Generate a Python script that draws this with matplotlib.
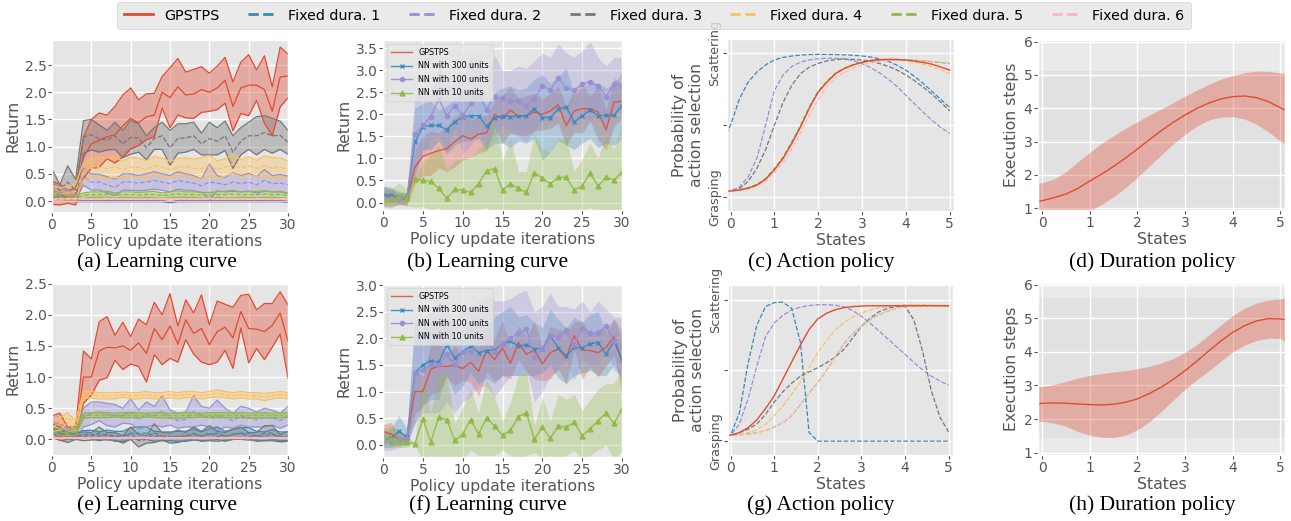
import matplotlib
matplotlib.use("Agg")
import matplotlib.pyplot as plt
import numpy as np
from matplotlib.lines import Line2D

plt.style.use("ggplot")
plt.rcParams["font.family"] = ["DejaVu Sans"]

RED = "#E24A33"
FIXED_COLORS = ["#348ABD", "#988ED5", "#777777", "#FBC15E", "#8EBA42", "#FFB5B8"]
LEGEND_LABELS = ["GPSTPS", "Fixed dura. 1", "Fixed dura. 2", "Fixed dura. 3",
                 "Fixed dura. 4", "Fixed dura. 5", "Fixed dura. 6"]
NN_LABELS = ["NN with 300 units", "NN with 100 units", "NN with 10 units"]
CAPTIONS = ["(a) Learning curve", "(b) Learning curve", "(c) Action policy", "(d) Duration policy",
            "(e) Learning curve", "(f) Learning curve", "(g) Action policy", "(h) Duration policy"]

ITERATIONS = list(range(31))

# ---- learning curves, setting 1 (a, b) ----
A_GPSTPS_MEAN = [0.15, 0.12, 0.08, 0.08, 0.80, 1.05, 1.12, 1.18, 1.22, 1.38, 1.52, 1.44, 1.55, 1.58, 2.00, 1.90,
                 2.10, 1.95, 1.97, 2.05, 2.00, 2.08, 2.22, 1.74, 2.08, 2.13, 2.13, 2.05, 1.65, 2.28, 2.30]
A_GPSTPS_STD = [0.21, 0.19, 0.12, 0.15, 0.38, 0.45, 0.50, 0.40, 0.52, 0.57, 0.56, 0.42, 0.42, 0.40, 0.29, 0.55,
                0.52, 0.42, 0.45, 0.42, 0.35, 0.40, 0.42, 0.45, 0.47, 0.56, 0.28, 0.62, 0.45, 0.55, 0.40]
A_F1_MEAN = [0.05, 0.03, 0.02, 0.00, 0.00, 0.00, 0.00, 0.00, 0.00, 0.00, 0.00, 0.00, 0.00, 0.00, 0.00, -0.02,
             0.00, 0.00, 0.00, 0.00, 0.00, 0.00, 0.00, 0.00, 0.00, 0.00, 0.00, 0.00, 0.00, 0.00, -0.01]
A_F1_STD = [0.03, 0.03, 0.02, 0.01, 0.01, 0.01, 0.01, 0.01, 0.01, 0.01, 0.01, 0.01, 0.01, 0.01, 0.01, 0.01,
            0.01, 0.01, 0.01, 0.01, 0.01, 0.01, 0.01, 0.01, 0.01, 0.01, 0.01, 0.01, 0.01, 0.01, 0.01]
A_F2_MEAN = [0.20, 0.15, 0.12, 0.10, 0.45, 0.35, 0.35, 0.30, 0.25, 0.35, 0.35, 0.33, 0.35, 0.38, 0.35, 0.32,
             0.38, 0.35, 0.33, 0.28, 0.35, 0.33, 0.30, 0.35, 0.32, 0.35, 0.30, 0.38, 0.32, 0.33, 0.30]
A_F2_STD = [0.10, 0.10, 0.08, 0.07, 0.16, 0.15, 0.14, 0.15, 0.15, 0.15, 0.15, 0.14, 0.15, 0.16, 0.15, 0.15,
            0.16, 0.15, 0.14, 0.12, 0.33, 0.14, 0.13, 0.17, 0.15, 0.16, 0.15, 0.20, 0.15, 0.16, 0.16]
A_F3_MEAN = [0.32, 0.20, 0.35, 0.20, 1.18, 1.22, 1.15, 1.12, 1.20, 1.05, 1.17, 1.16, 0.98, 1.15, 1.20, 0.98,
             1.15, 1.16, 1.20, 1.05, 1.15, 1.10, 1.20, 0.90, 1.10, 1.20, 1.20, 1.26, 1.20, 1.21, 1.08]
A_F3_STD = [0.27, 0.10, 0.30, 0.20, 0.30, 0.28, 0.25, 0.18, 0.25, 0.25, 0.31, 0.26, 0.22, 0.20, 0.25, 0.32,
            0.27, 0.26, 0.25, 0.20, 0.30, 0.25, 0.27, 0.30, 0.25, 0.25, 0.35, 0.31, 0.32, 0.26, 0.22]
A_F4_MEAN = [0.15, 0.12, 0.15, 0.18, 0.55, 0.60, 0.62, 0.60, 0.63, 0.58, 0.63, 0.62, 0.58, 0.65, 0.62, 0.58,
             0.62, 0.64, 0.60, 0.60, 0.65, 0.58, 0.62, 0.68, 0.60, 0.65, 0.60, 0.65, 0.60, 0.62, 0.58]
A_F4_STD = [0.14, 0.12, 0.12, 0.13, 0.16, 0.17, 0.18, 0.19, 0.18, 0.16, 0.18, 0.17, 0.16, 0.17, 0.17, 0.15,
            0.16, 0.16, 0.17, 0.20, 0.19, 0.16, 0.16, 0.17, 0.16, 0.17, 0.15, 0.18, 0.20, 0.17, 0.16]
A_F5_MEAN = [0.10, 0.08, 0.05, 0.05, 0.10, 0.12, 0.12, 0.13, 0.10, 0.12, 0.12, 0.11, 0.12, 0.12, 0.10, 0.12,
             0.13, 0.12, 0.12, 0.11, 0.10, 0.12, 0.12, 0.13, 0.12, 0.12, 0.12, 0.13, 0.12, 0.12, 0.10]
A_F5_STD = [0.06, 0.05, 0.04, 0.04, 0.05, 0.05, 0.05, 0.05, 0.05, 0.05, 0.05, 0.05, 0.05, 0.06, 0.05, 0.05,
            0.06, 0.05, 0.05, 0.05, 0.06, 0.05, 0.06, 0.07, 0.05, 0.05, 0.06, 0.06, 0.05, 0.06, 0.05]
A_F6_MEAN = [0.03, 0.03, 0.03, 0.03, 0.03, 0.03, 0.03, 0.03, 0.03, 0.03, 0.03, 0.03, 0.03, 0.03, 0.03, 0.03,
             0.03, 0.03, 0.03, 0.03, 0.03, 0.03, 0.03, 0.03, 0.03, 0.03, 0.03, 0.03, 0.03, 0.03, 0.03]
A_F6_STD = [0.02, 0.02, 0.02, 0.02, 0.02, 0.02, 0.02, 0.02, 0.02, 0.02, 0.02, 0.02, 0.02, 0.02, 0.02, 0.02,
            0.02, 0.02, 0.02, 0.02, 0.02, 0.02, 0.02, 0.02, 0.02, 0.02, 0.02, 0.02, 0.02, 0.02, 0.02]

B_N300_MEAN = [0.18, 0.17, 0.12, 0.10, 1.37, 1.72, 1.75, 1.75, 1.65, 1.83, 1.95, 1.97, 1.97, 1.73, 1.93, 1.97,
               1.95, 1.97, 1.97, 2.13, 1.93, 1.93, 2.12, 2.17, 1.83, 1.97, 2.10, 1.97, 1.98, 1.98, 2.20]
B_N300_LO = [0.00, 0.00, -0.02, -0.02, 0.60, 1.20, 1.20, 1.40, 1.10, 1.30, 1.40, 1.40, 1.45, 1.20, 1.35, 1.35,
             1.25, 1.40, 1.35, 1.45, 0.95, 1.15, 1.40, 1.30, 1.20, 1.35, 1.45, 1.25, 1.35, 1.30, 1.45]
B_N300_HI = [0.38, 0.35, 0.25, 0.22, 2.15, 2.25, 2.30, 2.10, 2.20, 2.35, 2.50, 2.55, 2.45, 2.25, 2.50, 2.60,
             2.65, 2.55, 2.60, 2.80, 2.90, 2.70, 2.85, 3.05, 2.45, 2.60, 2.75, 2.70, 2.60, 2.70, 2.95]
B_N100_MEAN = [0.10, 0.10, 0.08, 0.10, 1.55, 1.75, 1.95, 2.35, 1.97, 2.20, 1.97, 2.25, 2.45, 2.10, 2.40, 2.37,
               2.30, 2.30, 2.20, 2.35, 2.65, 2.55, 2.83, 2.60, 2.55, 2.70, 2.73, 2.65, 2.40, 2.70, 2.65]
B_N100_LO = [-0.10, -0.10, -0.05, -0.05, 0.75, 1.05, 1.45, 1.50, 1.20, 1.70, 1.10, 1.30, 1.60, 1.30, 1.50, 1.75,
             1.65, 1.50, 1.40, 1.60, 1.95, 1.85, 2.10, 1.80, 1.75, 1.95, 1.85, 2.00, 1.70, 2.10, 2.05]
B_N100_HI = [0.30, 0.30, 0.20, 0.20, 2.45, 2.50, 2.50, 3.15, 2.65, 2.70, 2.90, 3.30, 3.25, 2.90, 3.35, 3.00,
             3.00, 3.10, 3.05, 3.20, 3.40, 3.30, 3.60, 3.40, 3.30, 3.45, 3.65, 3.30, 3.10, 3.30, 3.30]
B_N10_MEAN = [0.05, 0.07, 0.15, 0.10, 0.53, 0.50, 0.48, 0.32, 0.10, 0.30, 0.28, 0.23, 0.43, 0.72, 0.77, 0.28,
              0.43, 0.32, 0.23, 0.68, 0.55, 0.43, 0.57, 0.57, 0.28, 0.38, 0.67, 0.37, 0.58, 0.50, 0.70]
B_N10_LO = [-0.10, -0.12, -0.05, -0.08, -0.10, -0.10, -0.15, -0.12, -0.30, -0.15, -0.20, -0.25, -0.15, -0.10,
            -0.35, -0.30, -0.30, -0.20, -0.30, -0.15, -0.20, -0.30, -0.25, -0.30, -0.15, -0.25, -0.10, -0.30,
            -0.20, -0.20, -0.15]
B_N10_HI = [0.25, 0.30, 0.45, 0.30, 0.60, 0.90, 1.10, 1.30, 0.75, 0.95, 1.00, 1.00, 1.20, 1.40, 1.90, 0.95,
            1.45, 0.70, 0.70, 1.55, 1.20, 1.15, 1.45, 1.45, 0.70, 1.00, 1.35, 1.00, 1.55, 1.20, 1.85]

# ---- learning curves, setting 2 (e, f) ----
E_GPSTPS_MEAN = [0.25, 0.20, 0.10, 0.10, 1.00, 1.00, 1.42, 1.48, 1.47, 1.50, 1.43, 1.55, 1.38, 1.78, 1.60, 1.82,
                 1.53, 1.92, 1.70, 1.78, 1.52, 1.73, 1.80, 1.63, 2.05, 1.78, 1.77, 1.73, 1.83, 2.03, 1.57]
E_GPSTPS_STD = [0.13, 0.22, 0.10, 0.10, 0.42, 0.29, 0.47, 0.49, 0.20, 0.38, 0.22, 0.38, 0.46, 0.42, 0.40, 0.52,
                0.29, 0.32, 0.33, 0.54, 0.32, 0.49, 0.37, 0.49, 0.26, 0.55, 0.31, 0.45, 0.35, 0.34, 0.59]
E_F1_MEAN = [0.15, 0.10, 0.05, 0.05, 0.08, 0.08, 0.05, 0.08, 0.05, 0.05, 0.10, 0.10, 0.10, 0.05, 0.05, 0.05,
             0.05, 0.05, 0.08, 0.05, 0.08, 0.10, 0.05, 0.08, 0.10, 0.10, 0.05, 0.05, 0.08, 0.05, 0.05]
E_F1_STD = [0.05, 0.05, 0.05, 0.05, 0.06, 0.07, 0.07, 0.07, 0.08, 0.08, 0.09, 0.10, 0.10, 0.08, 0.07, 0.07,
            0.08, 0.08, 0.09, 0.07, 0.09, 0.10, 0.08, 0.08, 0.09, 0.09, 0.08, 0.07, 0.08, 0.07, 0.07]
E_F2_MEAN = [0.20, 0.15, 0.10, 0.10, 0.35, 0.42, 0.45, 0.40, 0.38, 0.38, 0.45, 0.32, 0.40, 0.38, 0.45, 0.35,
             0.30, 0.32, 0.45, 0.38, 0.35, 0.38, 0.35, 0.30, 0.38, 0.35, 0.32, 0.35, 0.35, 0.30, 0.38]
E_F2_STD = [0.08, 0.10, 0.08, 0.08, 0.15, 0.18, 0.15, 0.18, 0.18, 0.12, 0.20, 0.15, 0.20, 0.15, 0.25, 0.12,
            0.12, 0.12, 0.25, 0.15, 0.15, 0.25, 0.15, 0.12, 0.15, 0.15, 0.12, 0.15, 0.12, 0.12, 0.15]
E_F3_MEAN = [0.10, 0.05, 0.00, 0.05, 0.05, 0.05, 0.10, 0.05, 0.05, 0.00, 0.10, -0.02, 0.00, 0.10, 0.05, 0.02,
             0.05, 0.05, 0.10, 0.05, 0.10, 0.05, 0.05, 0.08, 0.10, 0.05, 0.05, 0.10, 0.10, 0.02, 0.05]
E_F3_STD = [0.08, 0.06, 0.05, 0.05, 0.07, 0.06, 0.10, 0.06, 0.06, 0.06, 0.10, 0.10, 0.06, 0.15, 0.06, 0.08,
            0.10, 0.06, 0.10, 0.08, 0.12, 0.08, 0.06, 0.08, 0.10, 0.06, 0.06, 0.12, 0.12, 0.06, 0.08]
E_F4_MEAN = [0.20, 0.25, 0.35, 0.22, 0.72, 0.72, 0.70, 0.70, 0.70, 0.72, 0.70, 0.70, 0.72, 0.70, 0.70, 0.72,
             0.70, 0.72, 0.72, 0.70, 0.72, 0.74, 0.72, 0.70, 0.72, 0.70, 0.70, 0.68, 0.70, 0.72, 0.70]
E_F4_STD = [0.08, 0.10, 0.08, 0.08, 0.06, 0.05, 0.05, 0.05, 0.05, 0.04, 0.05, 0.05, 0.05, 0.05, 0.05, 0.05,
            0.05, 0.05, 0.05, 0.05, 0.05, 0.06, 0.05, 0.05, 0.05, 0.05, 0.05, 0.06, 0.05, 0.05, 0.05]
E_F5_MEAN = [0.15, 0.12, 0.10, 0.12, 0.38, 0.39, 0.39, 0.39, 0.39, 0.39, 0.39, 0.39, 0.39, 0.39, 0.39, 0.38,
             0.38, 0.39, 0.39, 0.39, 0.39, 0.39, 0.39, 0.39, 0.39, 0.38, 0.39, 0.39, 0.38, 0.39, 0.39]
E_F5_STD = [0.05, 0.05, 0.04, 0.05, 0.04, 0.04, 0.04, 0.04, 0.03, 0.04, 0.04, 0.04, 0.03, 0.04, 0.04, 0.04,
            0.04, 0.04, 0.04, 0.03, 0.04, 0.04, 0.04, 0.04, 0.04, 0.04, 0.04, 0.04, 0.04, 0.04, 0.04]
E_F6_MEAN = [0.03, 0.03, 0.03, 0.03, 0.03, 0.03, 0.03, 0.03, 0.03, 0.03, 0.03, 0.03, 0.03, 0.03, 0.03, 0.03,
             0.03, 0.03, 0.03, 0.03, 0.03, 0.03, 0.03, 0.03, 0.03, 0.03, 0.03, 0.03, 0.03, 0.03, 0.03]
E_F6_STD = [0.01, 0.01, 0.01, 0.01, 0.01, 0.01, 0.01, 0.01, 0.01, 0.01, 0.01, 0.01, 0.01, 0.01, 0.01, 0.01,
            0.01, 0.01, 0.01, 0.01, 0.01, 0.01, 0.01, 0.01, 0.01, 0.01, 0.01, 0.01, 0.01, 0.01, 0.01]

F_N300_MEAN = [0.10, 0.12, 0.25, 0.15, 1.35, 1.50, 1.58, 1.55, 1.88, 1.63, 1.75, 1.85, 1.73, 1.77, 1.78, 1.90,
               1.95, 1.85, 1.88, 1.80, 1.80, 2.05, 1.82, 1.67, 1.83, 1.82, 1.90, 1.92, 1.70, 1.95, 1.60]
F_N300_LO = [-0.05, -0.05, 0.00, 0.00, 0.40, 0.75, 0.85, 0.85, 1.30, 0.95, 1.10, 1.35, 1.15, 1.25, 1.15, 1.30,
             1.30, 1.30, 1.30, 1.30, 1.35, 1.50, 1.25, 1.15, 1.30, 1.35, 1.40, 1.30, 1.30, 1.50, 1.20]
F_N300_HI = [0.25, 0.30, 0.55, 0.30, 2.30, 2.20, 2.30, 2.30, 2.40, 2.10, 2.15, 2.30, 2.30, 2.20, 2.40, 2.50,
             2.60, 2.40, 2.45, 2.30, 2.20, 2.55, 2.35, 2.20, 2.40, 2.30, 2.45, 2.50, 2.10, 2.35, 2.00]
F_N100_MEAN = [0.05, 0.05, 0.10, 0.10, 1.35, 1.40, 1.50, 1.50, 1.70, 1.50, 1.75, 1.75, 1.95, 1.95, 1.75, 1.90,
               2.00, 2.10, 2.17, 1.65, 1.80, 2.05, 2.03, 2.15, 1.88, 2.20, 2.10, 2.10, 2.23, 1.95, 1.85]
F_N100_LO = [-0.10, -0.10, -0.05, 0.00, 0.40, 0.60, 0.60, 0.60, 0.80, 0.60, 0.80, 0.90, 1.10, 1.10, 0.90, 1.10,
             1.30, 1.30, 1.45, 0.80, 1.00, 1.30, 1.40, 1.60, 1.20, 1.60, 1.50, 1.50, 1.80, 1.40, 1.30]
F_N100_HI = [0.20, 0.20, 0.25, 0.20, 2.35, 2.40, 2.50, 2.70, 2.60, 2.30, 2.60, 2.60, 2.70, 2.80, 2.70, 2.70,
             2.75, 2.85, 2.90, 2.50, 2.60, 2.85, 2.60, 2.60, 2.55, 2.70, 2.50, 2.70, 2.55, 2.40, 2.40]
F_N10_MEAN = [0.15, 0.10, 0.05, 0.05, 0.02, 0.48, 0.05, 0.52, 0.47, 0.08, 0.20, 0.47, 0.20, 0.50, 0.35, 0.18,
              0.27, 0.53, 0.60, 0.10, 0.33, 0.12, 0.35, 0.33, 0.42, 0.17, 0.30, 0.45, 0.60, 0.40, 0.67]
F_N10_LO = [-0.05, -0.05, -0.05, -0.05, 0.00, -0.30, -0.20, -0.30, -0.40, -0.20, -0.30, -0.10, -0.20, -0.20,
            -0.20, -0.10, -0.20, -0.30, -0.20, -0.15, -0.25, -0.20, -0.30, -0.20, -0.10, -0.30, -0.20, -0.10,
            0.00, -0.30, -0.10]
F_N10_HI = [0.30, 0.35, 0.25, 0.15, 0.05, 1.30, 0.60, 1.35, 1.35, 0.40, 0.70, 1.05, 0.60, 1.25, 0.90, 0.45,
            0.80, 1.30, 1.40, 0.35, 0.90, 0.45, 0.95, 0.85, 0.95, 0.65, 0.85, 1.05, 1.15, 1.15, 1.40]

# ---- action policies (c, g): probability of scattering ----
ACTION_STATES = [-0.1, 0.0, 0.2, 0.4, 0.6, 0.8, 1.0, 1.2, 1.4, 1.6, 1.8, 2.0, 2.2, 2.4, 2.6, 2.8, 3.0,
                 3.2, 3.4, 3.6, 3.8, 4.0, 4.2, 4.4, 4.6, 4.8, 5.0]
C_GPSTPS = [0.042, 0.044, 0.050, 0.063, 0.085, 0.125, 0.190, 0.270, 0.375, 0.490, 0.620, 0.730, 0.800, 0.860,
            0.895, 0.920, 0.938, 0.950, 0.956, 0.958, 0.957, 0.954, 0.947, 0.937, 0.925, 0.905, 0.884]
C_F1 = [0.440, 0.500, 0.680, 0.800, 0.870, 0.920, 0.955, 0.972, 0.982, 0.988, 0.992, 0.993, 0.993, 0.992,
        0.990, 0.987, 0.982, 0.975, 0.962, 0.945, 0.918, 0.884, 0.840, 0.790, 0.735, 0.680, 0.625]
C_F2 = [0.042, 0.044, 0.070, 0.140, 0.270, 0.500, 0.740, 0.850, 0.910, 0.940, 0.955, 0.962, 0.966, 0.966,
        0.962, 0.950, 0.930, 0.900, 0.865, 0.820, 0.770, 0.710, 0.650, 0.590, 0.535, 0.485, 0.444]
C_F3 = [0.042, 0.044, 0.060, 0.110, 0.200, 0.330, 0.500, 0.660, 0.780, 0.860, 0.905, 0.930, 0.948, 0.957,
        0.960, 0.958, 0.954, 0.945, 0.930, 0.910, 0.885, 0.850, 0.810, 0.765, 0.715, 0.660, 0.600]
C_F4 = [0.042, 0.044, 0.051, 0.064, 0.087, 0.128, 0.194, 0.275, 0.380, 0.495, 0.625, 0.735, 0.805, 0.862,
        0.896, 0.920, 0.937, 0.948, 0.954, 0.955, 0.953, 0.948, 0.938, 0.925, 0.908, 0.885, 0.860]
C_F5 = [0.042, 0.044, 0.052, 0.066, 0.090, 0.132, 0.200, 0.282, 0.388, 0.502, 0.630, 0.738, 0.808, 0.865,
        0.898, 0.922, 0.940, 0.951, 0.957, 0.959, 0.958, 0.956, 0.952, 0.947, 0.942, 0.936, 0.930]
C_F6 = [0.042, 0.044, 0.050, 0.060, 0.078, 0.110, 0.170, 0.240, 0.340, 0.450, 0.570, 0.680, 0.770, 0.830,
        0.870, 0.900, 0.920, 0.935, 0.945, 0.950, 0.953, 0.953, 0.952, 0.948, 0.944, 0.940, 0.935]

G_GPSTPS = [0.040, 0.042, 0.060, 0.095, 0.150, 0.230, 0.320, 0.440, 0.560, 0.680, 0.790, 0.865, 0.905, 0.930,
            0.945, 0.952, 0.956, 0.958, 0.958, 0.958, 0.958, 0.958, 0.958, 0.958, 0.958, 0.958, 0.958]
G_F1 = [0.040, 0.042, 0.200, 0.550, 0.820, 0.953, 0.980, 0.983, 0.940, 0.700, 0.060, 0.000, 0.000, 0.000,
        0.000, 0.000, 0.000, 0.000, 0.000, 0.000, 0.000, 0.000, 0.000, 0.000, 0.000, 0.000, 0.000]
G_F2 = [0.040, 0.042, 0.120, 0.300, 0.530, 0.740, 0.836, 0.890, 0.930, 0.948, 0.960, 0.965, 0.966, 0.962,
        0.950, 0.925, 0.883, 0.835, 0.780, 0.725, 0.670, 0.614, 0.558, 0.505, 0.460, 0.425, 0.397]
G_F3 = [0.040, 0.042, 0.060, 0.085, 0.120, 0.190, 0.276, 0.350, 0.410, 0.460, 0.490, 0.520, 0.555, 0.595,
        0.650, 0.730, 0.813, 0.870, 0.915, 0.940, 0.953, 0.953, 0.860, 0.640, 0.360, 0.170, 0.065]
G_F4 = [0.040, 0.042, 0.048, 0.060, 0.080, 0.120, 0.180, 0.250, 0.330, 0.420, 0.520, 0.626, 0.710, 0.785,
        0.840, 0.880, 0.907, 0.927, 0.943, 0.952, 0.960, 0.965, 0.966, 0.966, 0.964, 0.961, 0.958]
G_F5 = [0.040, 0.042, 0.045, 0.050, 0.060, 0.075, 0.100, 0.130, 0.180, 0.260, 0.340, 0.416, 0.500, 0.600,
        0.690, 0.760, 0.813, 0.860, 0.895, 0.920, 0.940, 0.953, 0.957, 0.958, 0.958, 0.958, 0.958]
G_F6 = [0.040, 0.042, 0.045, 0.050, 0.060, 0.075, 0.100, 0.130, 0.180, 0.260, 0.340, 0.416, 0.500, 0.600,
        0.690, 0.760, 0.813, 0.860, 0.895, 0.920, 0.940, 0.953, 0.957, 0.958, 0.958, 0.958, 0.958]

# ---- duration policies (d, h) ----
DURATION_STATES = [-0.1, 0.0, 0.25, 0.5, 0.75, 1.0, 1.25, 1.5, 1.75, 2.0, 2.25, 2.5, 2.75, 3.0, 3.25, 3.5,
                   3.75, 4.0, 4.25, 4.5, 4.75, 5.0, 5.1]
D_MEAN = [1.20, 1.23, 1.32, 1.43, 1.60, 1.82, 2.03, 2.26, 2.51, 2.78, 3.06, 3.33, 3.58, 3.80, 4.00, 4.16,
          4.28, 4.35, 4.37, 4.32, 4.20, 4.02, 3.95]
D_UPPER = [1.75, 1.77, 1.88, 2.10, 2.40, 2.68, 2.95, 3.18, 3.40, 3.60, 3.80, 3.98, 4.17, 4.37, 4.55, 4.72,
           4.87, 4.98, 5.07, 5.12, 5.11, 5.06, 5.03]
D_LOWER = [0.65, 0.68, 0.72, 0.76, 0.82, 0.92, 1.12, 1.35, 1.62, 1.93, 2.27, 2.60, 2.93, 3.22, 3.47, 3.65,
           3.74, 3.75, 3.68, 3.52, 3.30, 3.02, 2.90]
H_MEAN = [2.45, 2.47, 2.48, 2.47, 2.45, 2.43, 2.42, 2.44, 2.50, 2.60, 2.76, 2.95, 3.18, 3.44, 3.73, 4.03,
          4.32, 4.58, 4.78, 4.92, 4.99, 4.98, 4.96]
H_UPPER = [2.97, 2.97, 3.03, 3.12, 3.22, 3.30, 3.36, 3.40, 3.44, 3.50, 3.57, 3.67, 3.80, 3.99, 4.22, 4.50,
           4.80, 5.08, 5.30, 5.45, 5.54, 5.58, 5.60]
H_LOWER = [1.92, 1.93, 1.88, 1.78, 1.63, 1.52, 1.46, 1.45, 1.52, 1.68, 1.92, 2.23, 2.56, 2.89, 3.17, 3.44,
           3.72, 4.00, 4.20, 4.34, 4.41, 4.40, 4.30]

TICK_SIZE = 10
LABEL_SIZE = 11.3


def style_axes(ax):
    ax.tick_params(labelsize=TICK_SIZE, colors="#555555", length=3, width=0.8)
    ax.tick_params(axis="y", pad=1.0)
    ax.tick_params(axis="x", pad=1.5)
    ax.grid(True, color="white", lw=1.0)


def draw_fixed_panel(ax, gps_mean, gps_std, fixed_means, fixed_stds, ylim, yticks):
    means = [gps_mean] + fixed_means
    stds = [gps_std] + fixed_stds
    colors = [RED] + FIXED_COLORS
    for i, (mean, std, color) in enumerate(zip(means, stds, colors)):
        mean = np.asarray(mean)
        std = np.asarray(std)
        ax.fill_between(ITERATIONS, mean - std, mean + std, color=color, alpha=0.38, lw=0)
        ax.plot(ITERATIONS, mean - std, color=color, lw=0.9)
        ax.plot(ITERATIONS, mean + std, color=color, lw=0.9)
        ax.plot(ITERATIONS, mean, color=color, lw=0.9, ls="-" if i == 0 else "--")
    ax.set_xlim(0, 30)
    ax.set_ylim(*ylim)
    ax.set_xticks(range(0, 31, 5))
    ax.set_yticks(yticks)
    ax.set_xlabel("Policy update iterations", fontsize=LABEL_SIZE, labelpad=1)
    ax.set_ylabel("Return", fontsize=LABEL_SIZE, labelpad=3)
    style_axes(ax)


def draw_nn_panel(ax, gps_mean, gps_std, nn_means, nn_los, nn_his, ylim, yticks):
    gps_mean = np.asarray(gps_mean)
    gps_std = np.asarray(gps_std)
    ax.fill_between(ITERATIONS, gps_mean - gps_std, gps_mean + gps_std, color=RED, alpha=0.3, lw=0)
    ax.plot(ITERATIONS, gps_mean, color=RED, lw=1.0, alpha=0.85, label="GPSTPS")
    colors = [FIXED_COLORS[0], FIXED_COLORS[1], FIXED_COLORS[4]]
    markers = ["x", "o", "^"]
    sizes = [3.5, 3.0, 3.5]
    for label, color, marker, ms, mean, lo, hi in zip(NN_LABELS, colors, markers, sizes,
                                                      nn_means, nn_los, nn_his):
        ax.fill_between(ITERATIONS, lo, hi, color=color, alpha=0.3, lw=0)
        ax.plot(ITERATIONS, mean, color=color, lw=1.0, marker=marker, ms=ms, mew=1.0,
                alpha=0.9, label=label)
    ax.set_xlim(0, 30)
    ax.set_ylim(*ylim)
    ax.set_xticks(range(0, 31, 5))
    ax.set_yticks(yticks)
    ax.set_xlabel("Policy update iterations", fontsize=LABEL_SIZE, labelpad=1)
    ax.set_ylabel("Return", fontsize=LABEL_SIZE, labelpad=3)
    ax.legend(loc="upper left", fontsize=5.8, handlelength=2.6, borderpad=0.5,
              labelspacing=0.55, framealpha=0.8)
    style_axes(ax)


def draw_action_panel(ax, gps, fixed, xlim, ylim):
    for curve, color in zip(fixed, FIXED_COLORS):
        ax.plot(ACTION_STATES, curve, color=color, lw=0.9, ls="--")
    ax.plot(ACTION_STATES, gps, color=RED, lw=1.0)
    ax.set_xlim(*xlim)
    ax.set_ylim(*ylim)
    ax.set_xticks(range(6))
    ax.set_yticks([0, 0.5, 1])
    ax.set_yticklabels(["Grasping", "", "Scattering"], rotation=90, va="center")
    ax.set_xlabel("States", fontsize=LABEL_SIZE, labelpad=1)
    ax.set_ylabel("Probability of\naction selection", fontsize=LABEL_SIZE, labelpad=3)
    style_axes(ax)
    ax.tick_params(axis="y", labelsize=9.2)


def draw_duration_panel(ax, mean, lower, upper, ylim):
    ax.axhspan(min(lower), max(upper), color="#E1E1E1", lw=0, zorder=0)
    ax.fill_between(DURATION_STATES, lower, upper, color=RED, alpha=0.35, lw=0)
    ax.plot(DURATION_STATES, mean, color=RED, lw=1.0)
    ax.set_xlim(-0.09, 5.1)
    ax.set_ylim(*ylim)
    ax.set_xticks(range(6))
    ax.set_yticks(range(1, 7))
    ax.set_xlabel("States", fontsize=LABEL_SIZE, labelpad=1)
    ax.set_ylabel("Execution steps", fontsize=LABEL_SIZE, labelpad=3)
    style_axes(ax)
    ax.set_facecolor("#EAEAEA")


W, H = 1291, 521
fig = plt.figure(figsize=(W / 100, H / 100), dpi=100)


def px_axes(left, top, right, bottom):
    return fig.add_axes([left / W, 1 - bottom / H, (right - left) / W, (bottom - top) / H])


ax_a = px_axes(52, 40, 288, 212)
ax_b = px_axes(383, 40, 622, 210)
ax_c = px_axes(727, 39, 954, 211)
ax_d = px_axes(1038, 40, 1285, 210)
ax_e = px_axes(52, 283, 288, 455)
ax_f = px_axes(383, 284, 622, 457)
ax_g = px_axes(728, 285, 953, 455)
ax_h = px_axes(1038, 283, 1285, 455)

draw_fixed_panel(ax_a, A_GPSTPS_MEAN, A_GPSTPS_STD,
                 [A_F1_MEAN, A_F2_MEAN, A_F3_MEAN, A_F4_MEAN, A_F5_MEAN, A_F6_MEAN],
                 [A_F1_STD, A_F2_STD, A_F3_STD, A_F4_STD, A_F5_STD, A_F6_STD],
                 (-0.2, 2.96), np.arange(0, 2.6, 0.5))
draw_nn_panel(ax_b, A_GPSTPS_MEAN, A_GPSTPS_STD,
              [B_N300_MEAN, B_N100_MEAN, B_N10_MEAN], [B_N300_LO, B_N100_LO, B_N10_LO],
              [B_N300_HI, B_N100_HI, B_N10_HI], (-0.17, 3.69), np.arange(0, 3.6, 0.5))
draw_action_panel(ax_c, C_GPSTPS, [C_F1, C_F2, C_F3, C_F4, C_F5, C_F6], (-0.08, 5.1), (-0.095, 1.1))
draw_duration_panel(ax_d, D_MEAN, D_LOWER, D_UPPER, (0.95, 6.05))

draw_fixed_panel(ax_e, E_GPSTPS_MEAN, E_GPSTPS_STD,
                 [E_F1_MEAN, E_F2_MEAN, E_F3_MEAN, E_F4_MEAN, E_F5_MEAN, E_F6_MEAN],
                 [E_F1_STD, E_F2_STD, E_F3_STD, E_F4_STD, E_F5_STD, E_F6_STD],
                 (-0.25, 2.51), np.arange(0, 2.6, 0.5))
draw_nn_panel(ax_f, E_GPSTPS_MEAN, E_GPSTPS_STD,
              [F_N300_MEAN, F_N100_MEAN, F_N10_MEAN], [F_N300_LO, F_N100_LO, F_N10_LO],
              [F_N300_HI, F_N100_HI, F_N10_HI], (-0.23, 3.02), np.arange(0, 3.1, 0.5))
draw_action_panel(ax_g, G_GPSTPS, [G_F1, G_F2, G_F3, G_F4, G_F5, G_F6], (-0.06, 5.1), (-0.098, 1.105))
draw_duration_panel(ax_h, H_MEAN, H_LOWER, H_UPPER, (0.93, 6.05))

caption_x = [157, 488, 821, 1152]
for i, caption in enumerate(CAPTIONS):
    y = 262 if i < 4 else 505
    fig.text(caption_x[i % 4] / W, 1 - y / H, caption, ha="center", va="center",
             fontsize=15.5, family=["Liberation Serif", "DejaVu Serif"], color="black")

handles = [Line2D([], [], color=RED, lw=2)]
handles += [Line2D([], [], color=c, lw=2, ls="--") for c in FIXED_COLORS]
fig.legend(handles, LEGEND_LABELS, loc="center", bbox_to_anchor=(654 / W, 1 - 15.5 / H), ncol=7,
           fontsize=10.3, frameon=True, facecolor="#E5E5E5", edgecolor="#CCCCCC", framealpha=0.8,
           borderpad=0.45, columnspacing=2.0)

fig.savefig("out.png", dpi=100)
